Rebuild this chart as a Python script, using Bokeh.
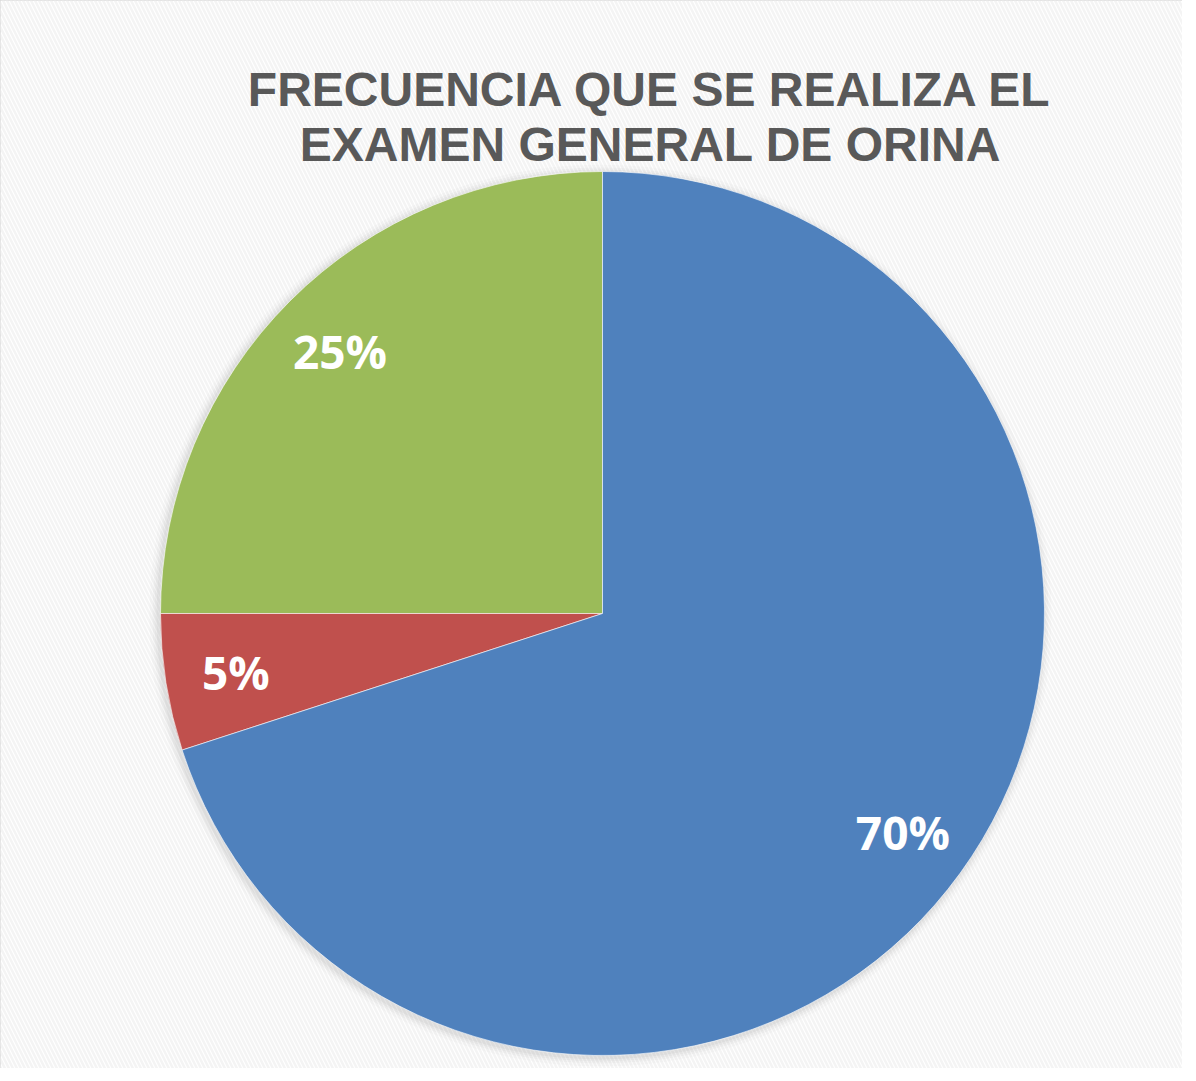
import math
from bokeh.plotting import figure
from bokeh.models import Range1d, ColumnDataSource
from bokeh.core.properties import value
from bokeh.embed import file_html
from bokeh.resources import INLINE

# ---- data ----
categories = ["Frecuencia A", "Frecuencia B", "Frecuencia C"]
percents = [25, 5, 70]
colors = ["#9BBB59", "#C0504D", "#4F81BD"]
title_lines = ["FRECUENCIA QUE SE REALIZA EL", "EXAMEN GENERAL DE ORINA"]

W, H = 1182, 1068
p = figure(width=W, height=H, x_range=Range1d(0, W), y_range=Range1d(0, H),
           output_backend="svg", toolbar_location=None, min_border=0,
           tools="")
p.axis.visible = False
p.grid.visible = False
p.outline_line_color = "#D9D9D9"
p.outline_line_width = 2
p.background_fill_color = "white"
p.border_fill_color = "white"

# striped background
p.quad(left=0, right=W, bottom=0, top=H, fill_color="white", line_color=None,
       hatch_pattern="\\", hatch_color="#F4F4F4", hatch_scale=8, hatch_weight=2.5)

cx, cy, r = 602, 1068 - 613, 442

# soft shadow
for extra, a in [(9, 0.03), (6, 0.05), (4, 0.06), (2, 0.08)]:
    p.circle(x=[cx - 2], y=[cy - 2], radius=extra + r, fill_color="#808080",
             fill_alpha=a, line_color=None)

total = sum(percents)
starts, ends, lx, ly, labels = [], [], [], [], []
ang = math.pi / 2
for v in percents:
    s = ang
    e = ang + 2 * math.pi * v / total
    starts.append(s)
    ends.append(e)
    mid = (s + e) / 2
    lx.append(cx + 0.84 * r * math.cos(mid))
    ly.append(cy + 0.84 * r * math.sin(mid))
    labels.append(f"{v}%")
    ang = e

src = ColumnDataSource(dict(cat=categories, start=starts, end=ends, color=colors,
                            lx=lx, ly=ly, label=labels))
p.wedge(x=cx, y=cy, radius=r, start_angle="start", end_angle="end",
        fill_color="color", line_color="white", line_width=0.6, source=src)

p.text(x="lx", y="ly", text="label", source=src, text_color="white",
       text_font=value("Open Sans"), text_font_style="bold", text_font_size="46px",
       text_align="center", text_baseline="middle")

p.text(x=[650, 650], y=[1068 - 89, 1068 - 144], text=title_lines,
       text_color="#595959", text_font=value("Liberation Sans"),
       text_font_style="bold", text_font_size="48px",
       text_align="center", text_baseline="middle")

open("out.html", "w").write(file_html(p, INLINE))
